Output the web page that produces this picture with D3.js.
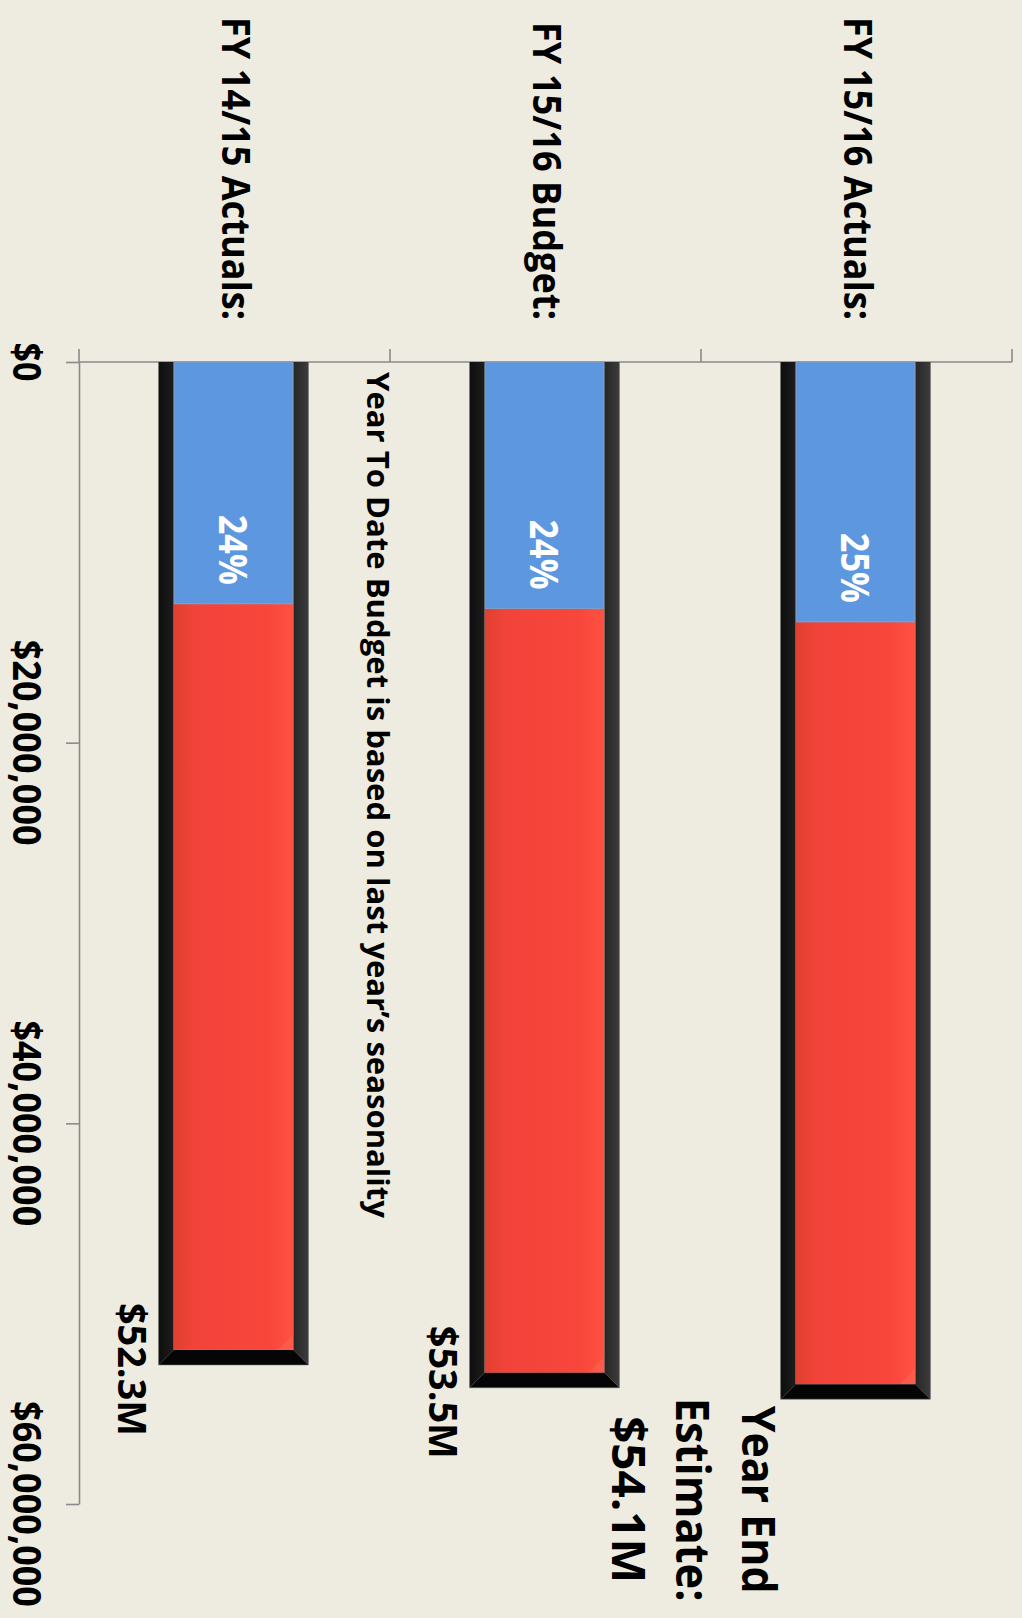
<!DOCTYPE html>
<html>
<head>
<meta charset="utf-8">
<script src="https://cdn.jsdelivr.net/npm/d3@7"></script>
<style>
  html, body { margin: 0; padding: 0; background: #eeece1; }
  svg { display: block; }
  text { font-family: "Open Sans", "Noto Sans", sans-serif; font-weight: 700; }
</style>
</head>
<body>
<svg id="chart" width="1022" height="1618"></svg>
<script>
// ---------------- data ----------------
const categories = ["FY 14/15 Actuals:", "FY 15/16 Budget:", "FY 15/16 Actuals:"];
const totals = [52.3e6, 53.5e6, 54.1e6];          // full-year amounts
const ytd = [12.7e6, 12.95e6, 13.65e6];           // year-to-date portion (blue)
const valueTicks = [0, 20e6, 40e6, 60e6];
const noteText = "Year To Date Budget is based on last year\u2019s seasonality";
const estimateLines = ["Year End", "Estimate:"];

// ---------------- layout ----------------
const W = 1022, H = 1618;
const svg = d3.select("#chart");
svg.append("rect").attr("width", W).attr("height", H).attr("fill", "#eeece1");

const y = d3.scaleLinear().domain([0, 60e6]).range([362, 1504]);
const x = d3.scaleBand().domain(categories).range([79, 1012]).padding(0);
const center = c => x(c) + x.bandwidth() / 2;
const frameW = x.bandwidth() * 0.482;
const border = 15;
const fmtMoney = d3.format("$,.0f");
const fmtM = v => "$" + d3.format(".1f")(v / 1e6) + "M";
const fmtPct = d3.format(".0%");

// gradients
const defs = svg.append("defs");
const redG = defs.append("linearGradient").attr("id", "redG").attr("x1", "0").attr("x2", "1").attr("y1", "0").attr("y2", "0");
[["0%", "#e0402f"], ["18%", "#f2433a"], ["80%", "#f8463b"], ["100%", "#ff5242"]]
  .forEach(([o, c]) => redG.append("stop").attr("offset", o).attr("stop-color", c));
const leftG = defs.append("linearGradient").attr("id", "leftG").attr("x1", "0").attr("x2", "1");
[["0%", "#0d0d0d"], ["100%", "#1d1d1d"]].forEach(([o, c]) => leftG.append("stop").attr("offset", o).attr("stop-color", c));
const rightG = defs.append("linearGradient").attr("id", "rightG").attr("x1", "0").attr("x2", "1");
[["0%", "#262626"], ["100%", "#3c3c3c"]].forEach(([o, c]) => rightG.append("stop").attr("offset", o).attr("stop-color", c));

// ---------------- axes ----------------
const axisColor = "#8a8a8a";
const yAxis = svg.append("g").attr("transform", `translate(${x.range()[0]},0)`)
  .call(d3.axisLeft(y).tickValues(valueTicks).tickSize(13).tickSizeOuter(0).tickFormat(""));
yAxis.selectAll("path, line").attr("stroke", axisColor).attr("stroke-width", 1.6);

// category axis line and boundary ticks
svg.append("line")
  .attr("x1", x.range()[0]).attr("x2", x.range()[1])
  .attr("y1", y(0)).attr("y2", y(0))
  .attr("stroke", axisColor).attr("stroke-width", 1.6);
svg.selectAll(".ctick").data(d3.range(categories.length + 1)).join("line")
  .attr("x1", k => x.range()[0] + k * x.step()).attr("x2", k => x.range()[0] + k * x.step())
  .attr("y1", y(0) - 13).attr("y2", y(0))
  .attr("stroke", axisColor).attr("stroke-width", 1.6);

// value tick labels (rotated; condensed with a scale so the box is exact)
const tickLen = v => v === 0 ? 39 : 206;
svg.selectAll(".vlab").data(valueTicks).join("text")
  .attr("class", "vlab")
  .attr("text-anchor", "middle")
  .attr("font-size", 40).attr("fill", "#000")
  .text(d => fmtMoney(d))
  .each(function (d) {
    const len = this.getComputedTextLength() || tickLen(d);
    const s = tickLen(d) / len;
    d3.select(this).attr("transform",
      `translate(13,${Math.min(y(d), H - 110)}) rotate(90) scale(${s},1)`);
  });

// category labels (rotated)
const catLen = [303, 298, 303];
svg.selectAll(".clab").data(categories).join("text")
  .attr("transform", d => `translate(${center(d) - 13},320) rotate(90)`)
  .attr("text-anchor", "end")
  .attr("font-size", 39).attr("fill", "#000")
  .attr("textLength", (d, i) => catLen[i]).attr("lengthAdjust", "spacingAndGlyphs")
  .text(d => d);

// ---------------- bars ----------------
const bars = svg.selectAll(".bar").data(categories).join("g").attr("class", "bar");
bars.each(function (cat, i) {
  const g = d3.select(this);
  const c = center(cat) - 1;
  const L = c - frameW / 2, R = c + frameW / 2;
  const y0 = y(0);
  const yv = y(totals[i]);
  const outerB = yv + 7.5, innerB = yv - 7.5;
  const yb = y(ytd[i]);

  // inner red (remaining)
  g.append("rect").attr("x", L + border).attr("y", yb)
    .attr("width", frameW - 2 * border).attr("height", innerB - yb)
    .attr("fill", "url(#redG)");
  // bevel highlight bottom-right of red
  g.append("path")
    .attr("d", `M${R - border},${innerB - 16} L${R - border},${innerB} L${R - border - 16},${innerB} Z`)
    .attr("fill", "#ff6a58").attr("opacity", 0.45);
  // blue (year to date)
  g.append("rect").attr("x", L + border + 0.5).attr("y", y0)
    .attr("width", frameW - 2 * border - 1).attr("height", yb - y0)
    .attr("fill", "#5d97e0").attr("stroke", "#7f9cc4").attr("stroke-width", 1.2);

  // frame: left, right, bottom
  g.append("path")
    .attr("d", `M${L},${y0} L${L + border},${y0} L${L + border},${innerB} L${L},${outerB} Z`)
    .attr("fill", "url(#leftG)");
  g.append("path")
    .attr("d", `M${R - border},${y0} L${R},${y0} L${R},${outerB} L${R - border},${innerB} Z`)
    .attr("fill", "url(#rightG)");
  g.append("path")
    .attr("d", `M${L},${outerB} L${L + border},${innerB} L${R - border},${innerB} L${R},${outerB} Z`)
    .attr("fill", "#050505");
  g.append("path")
    .attr("d", `M${L},${y0} L${L},${outerB} L${R},${outerB} L${R},${y0}`)
    .attr("fill", "none").attr("stroke", "#6e6e6e").attr("stroke-width", 0.8).attr("opacity", 0.7);

  // percentage label
  g.append("text")
    .attr("transform", `translate(${c - 15},${yb - 19}) rotate(90)`)
    .attr("text-anchor", "end")
    .attr("font-size", 40).attr("fill", "#fff")
    .attr("textLength", 70).attr("lengthAdjust", "spacingAndGlyphs")
    .text(fmtPct(ytd[i] / totals[i]));

  if (i < categories.length - 1) {
    // total label beside bar
    g.append("text")
      .attr("transform", `translate(${c - 116},${yv + 12}) rotate(90)`)
      .attr("text-anchor", "middle")
      .attr("font-size", 39).attr("fill", "#000")
      .attr("textLength", 133).attr("lengthAdjust", "spacingAndGlyphs")
      .text(fmtM(totals[i]));
  } else {
    // year end estimate block
    const lines = estimateLines.concat([fmtM(totals[i])]);
    const offs = [114, 180, 244];
    const lens = [188, 204, 167];
    lines.forEach((t, k) => {
      g.append("text")
        .attr("transform", `translate(${c - offs[k]},${yv + 108}) rotate(90)`)
        .attr("text-anchor", "middle")
        .attr("font-size", 46).attr("fill", "#000")
        .attr("textLength", lens[k]).attr("lengthAdjust", "spacingAndGlyphs")
        .text(t);
    });
  }
});

// note text between first two bars
svg.append("text")
  .attr("transform", `translate(${x(categories[1]) - 23},${y(0) + 10}) rotate(90)`)
  .attr("text-anchor", "start")
  .attr("font-size", 31).attr("fill", "#000")
  .attr("textLength", 846).attr("lengthAdjust", "spacingAndGlyphs")
  .text(noteText);
</script>
</body>
</html>
